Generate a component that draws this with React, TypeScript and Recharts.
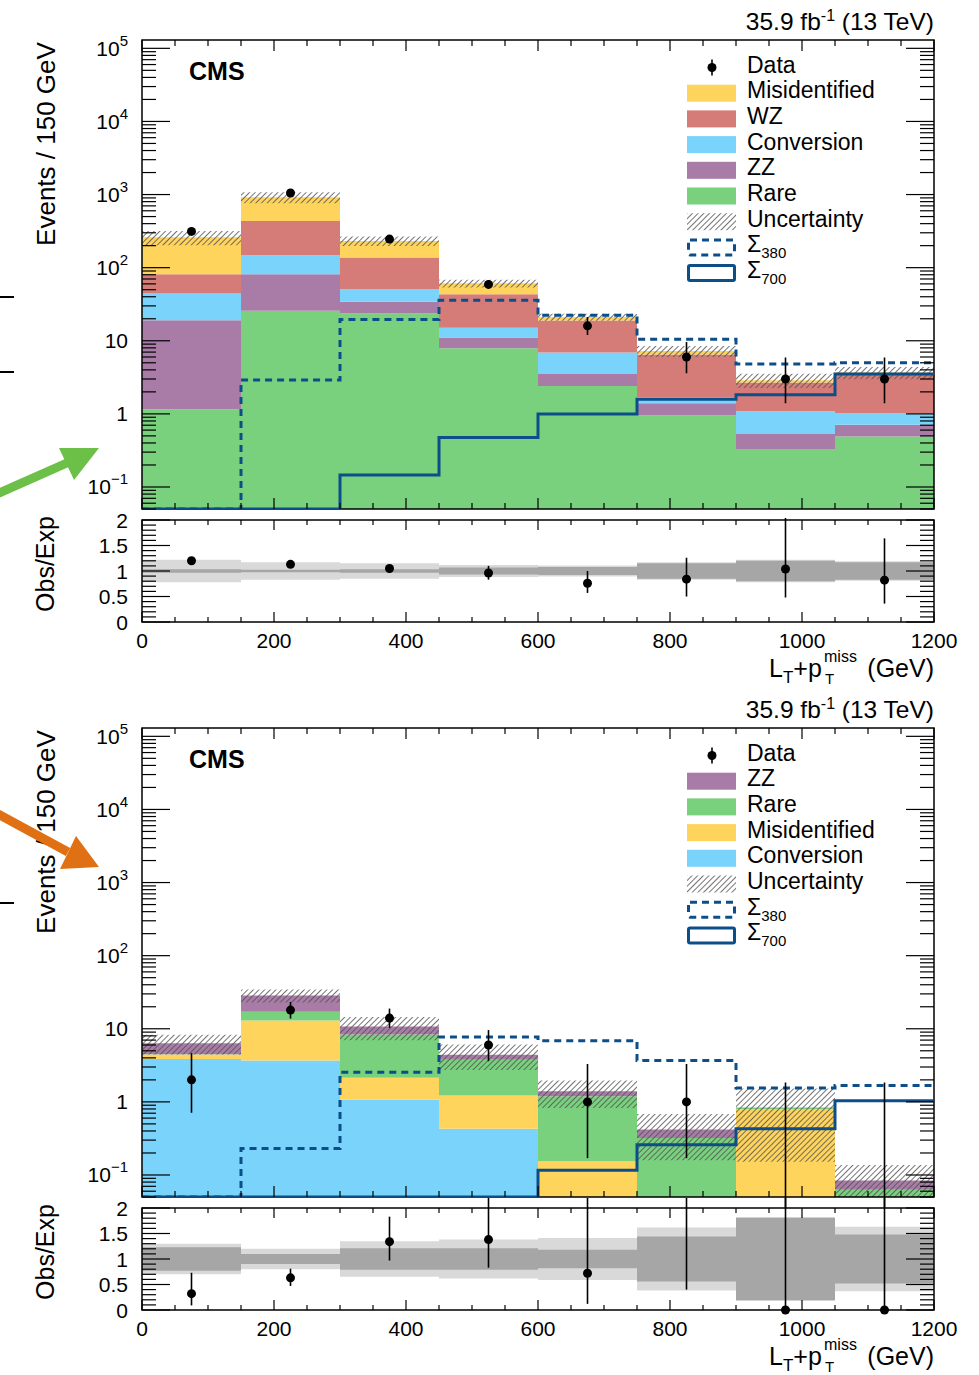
import React from 'react';
import { ComposedChart, Area, Line, Scatter, XAxis, YAxis, ErrorBar, ReferenceArea } from 'recharts';

const FONT = '"Liberation Sans", Arial, Helvetica, sans-serif';

// ---------- binning / ticks ----------
const BIN_EDGES = [0, 150, 300, 450, 600, 750, 900, 1050, 1200];
const BIN_CENTERS = [75, 225, 375, 525, 675, 825, 975, 1125];
const X_MAJOR = [0, 200, 400, 600, 800, 1000, 1200];
const X_LABELS = ['0', '200', '400', '600', '800', '1000', '1200'];
const Y_LOG_MAJOR = [0.1, 1, 10, 100, 1000, 10000, 100000];
const Y_LOG_BASE = ['10', '1', '10', '10', '10', '10', '10'];
const Y_LOG_SUP = ['\u22121', '', '', '2', '3', '4', '5'];
const RATIO_MAJOR = [0, 0.5, 1, 1.5, 2];
const RATIO_LABELS = ['0', '0.5', '1', '1.5', '2'];

// ---------- top panel (3 leptons) ----------
const topRare = [1.16, 25.7, 23.6, 7.9, 2.4, 0.95, 0.33, 0.49];
const topZZ = [18.0, 55.6, 10.5, 3.2, 1.1, 0.45, 0.2, 0.22];
const topConversion = [25.1, 66.3, 17.1, 4.0, 3.4, 0.29, 0.56, 0.31];
const topWZ = [37, 286, 87, 28.3, 12.1, 4.8, 1.6, 2.5];
const topMisid = [179, 486, 94, 17.6, 2.1, 0.75, 0.2, 0.15];
const topUnc = [0.22, 0.17, 0.15, 0.12, 0.11, 0.17, 0.22, 0.19];
const topStat = [0.035, 0.025, 0.035, 0.07, 0.08, 0.15, 0.2, 0.17];
const topData = [313, 1050, 246, 59, 16, 6, 3, 3];
const topDataErrLow = [17.7, 32, 15.7, 7.7, 4.0, 2.4, 1.6, 1.6];
const topDataErrHigh = [18.7, 33, 16.7, 8.7, 5.1, 3.6, 2.9, 2.9];
const topRatio = [1.2, 1.13, 1.05, 0.96, 0.76, 0.84, 1.04, 0.82];
const topRatioErrLow = [0.07, 0.035, 0.07, 0.13, 0.19, 0.34, 0.56, 0.46];
const topRatioErrHigh = [0.07, 0.035, 0.07, 0.14, 0.24, 0.42, 1.0, 0.82];
const topSig380 = [0, 2.9, 19.6, 35.9, 22.4, 10.5, 4.8, 5.0];
const topSig700 = [0, 0, 0.146, 0.475, 1.0, 1.59, 1.83, 3.5];

// ---------- bottom panel (4 leptons) ----------
const botConversion = [3.87, 3.67, 1.07, 0.43, 0, 0, 0, 0];
const botMisid = [0.56, 9.33, 1.06, 0.79, 0.154, 0, 0.8, 0];
const botRare = [0.07, 4.1, 6.2, 2.56, 1.04, 0.32, 0.03, 0.063];
const botZZ = [1.85, 11.5, 2.4, 0.62, 0.2, 0.1, 0.01, 0.021];
const botUnc = [0.3, 0.2, 0.35, 0.38, 0.41, 0.62, 0.82, 0.63];
const botStat = [0.23, 0.1, 0.21, 0.21, 0.18, 0.44, 0.81, 0.48];
const botData = [2, 18, 14, 6, 1, 1, 0, 0];
const botDataErrLow = [1.29, 4.2, 3.7, 2.4, 0.83, 0.83, 0, 0];
const botDataErrHigh = [2.64, 5.3, 4.9, 3.6, 2.3, 2.3, 1.84, 1.84];
const botRatio = [0.32, 0.63, 1.34, 1.38, 0.72, 2.4, 0, 0];
const botRatioErrLow = [0.23, 0.16, 0.37, 0.55, 0.6, 2.0, 0, 0];
const botRatioErrHigh = [0.41, 0.18, 0.49, 0.82, 1.6, 3.0, 2.2, 2.2];
const botSig380 = [0, 0.23, 2.54, 7.73, 6.88, 3.67, 1.55, 1.67];
const botSig700 = [0, 0, 0, 0, 0.116, 0.259, 0.428, 1.04];

// ---------- styles ----------
const C_MISID = '#FFD45C';
const C_WZ = '#D67C78';
const C_CONV = '#7AD3FA';
const C_ZZ = '#A97CA8';
const C_RARE = '#79D17E';
const C_SIG = '#0C4E8A';
const C_LIGHT = '#D9D9D9';
const C_DARK = '#A6A6A6';
const C_HATCH = '#505050';

const Y_MIN = 0.05;
const Y_MAX = 1.3e5;
const FLOOR = 0.01;
const NB = 8;

// tick lists
const X_TICKS: number[] = [];
for (let v = 0; v <= 1200; v += 50) X_TICKS.push(v);
const LOG_TICKS: number[] = [];
for (let e = -2; e <= 5; e++) {
  for (let m = 1; m <= 9; m++) {
    const v = m * Math.pow(10, e);
    const vv = parseFloat(v.toPrecision(6));
    if (vv >= Y_MIN && vv <= Y_MAX) LOG_TICKS.push(vv);
  }
}
const RATIO_TICKS: number[] = [];
for (let i = 0; i <= 20; i++) RATIO_TICKS.push(i / 10);

const near = (a: number, b: number) => Math.abs(a - b) <= 1e-9 + 1e-6 * Math.abs(b);

type Bounds = { L: number; R: number; T: number; B: number };

function makeYTick(b: Bounds, kind: 'log' | 'ratio') {
  return (props: any) => {
    const y = props.y;
    const v = props.payload.value;
    const majors = kind === 'log' ? Y_LOG_MAJOR : RATIO_MAJOR;
    const mi = majors.findIndex((m) => near(v, m));
    const len = mi >= 0 ? 28 : 14;
    let label: any = null;
    if (mi >= 0) {
      if (kind === 'log') {
        label = (
          <text x={b.L - 14} y={y + 7.5} textAnchor="end" fontSize={21} fontFamily={FONT} fill="#000">
            {Y_LOG_BASE[mi]}
            {Y_LOG_SUP[mi] ? (
              <tspan dy={-10} fontSize={15}>
                {Y_LOG_SUP[mi]}
              </tspan>
            ) : null}
          </text>
        );
      } else {
        label = (
          <text x={b.L - 14} y={y + 7.5} textAnchor="end" fontSize={21} fontFamily={FONT} fill="#000">
            {RATIO_LABELS[mi]}
          </text>
        );
      }
    }
    return (
      <g>
        <line x1={b.L} x2={b.L + len} y1={y} y2={y} stroke="#000" strokeWidth={1.2} />
        <line x1={b.R - len} x2={b.R} y1={y} y2={y} stroke="#000" strokeWidth={1.2} />
        {label}
      </g>
    );
  };
}

function makeXTick(b: Bounds, showLabels: boolean, majorLen: number, minorLen: number) {
  return (props: any) => {
    const x = props.x;
    const v = props.payload.value;
    const mi = X_MAJOR.findIndex((m) => near(v, m));
    const len = mi >= 0 ? majorLen : minorLen;
    return (
      <g>
        <line x1={x} x2={x} y1={b.B} y2={b.B - len} stroke="#000" strokeWidth={1.2} />
        <line x1={x} x2={x} y1={b.T} y2={b.T + len} stroke="#000" strokeWidth={1.2} />
        {showLabels && mi >= 0 ? (
          <text x={x} y={b.B + 26} textAnchor="middle" fontSize={21} fontFamily={FONT} fill="#000">
            {X_LABELS[mi]}
          </text>
        ) : null}
      </g>
    );
  };
}

type Stack = { key: string; values: number[]; color: string };

function buildMainRows(stacks: Stack[], unc: number[], s380: number[], s700: number[]) {
  return BIN_EDGES.map((edge, i) => {
    const b = Math.min(i, NB - 1);
    const row: any = { x: edge };
    let cum = 0;
    stacks.forEach((s) => {
      const lo = cum;
      const hi = cum + s.values[b];
      row[s.key] = [Math.max(lo, FLOOR), Math.max(hi, FLOOR)];
      cum = hi;
    });
    row.unc = [Math.max(cum * (1 - unc[b]), FLOOR), Math.max(cum * (1 + unc[b]), FLOOR)];
    row.s380 = Math.max(s380[b], Y_MIN);
    row.s700 = Math.max(s700[b], Y_MIN);
    return row;
  });
}

function buildPoints(vals: number[], lo: number[], hi: number[]) {
  return BIN_CENTERS.map((c, i) => {
    const v = vals[i];
    const y = v > 0 ? v : 0.02;
    return { x: c, y, show: v > 0, err: [v > 0 ? lo[i] : 0, hi[i] + v - y] };
  });
}

function buildRatioRows(unc: number[], stat: number[]) {
  return BIN_EDGES.map((edge, i) => {
    const b = Math.min(i, NB - 1);
    return { x: edge, light: [1 - unc[b], 1 + unc[b]], dark: [1 - stat[b], 1 + stat[b]] };
  });
}

function buildRatioPts(vals: number[], lo: number[], hi: number[]) {
  return BIN_CENTERS.map((c, i) => ({ x: c, y: vals[i], err: [lo[i], hi[i]] }));
}

const dotShape = (p: any) =>
  p.payload && p.payload.show === false ? <g /> : <circle cx={p.cx} cy={p.cy} r={4.5} fill="#000" />;
const plainDot = (p: any) => <circle cx={p.cx} cy={p.cy} r={4.5} fill="#000" />;
const noShape = () => <g />;

const MAIN_B: Bounds = { L: 142, R: 934, T: 40, B: 509 };
const RATIO_B: Bounds = { L: 142, R: 934, T: 10, B: 112 };

function HatchDef({ id }: { id: string }) {
  return (
    <pattern id={id} patternUnits="userSpaceOnUse" width={4} height={4} patternTransform="rotate(45)">
      <line x1={0} y1={0} x2={0} y2={4} stroke={C_HATCH} strokeWidth={1.6} />
    </pattern>
  );
}

function MainPanel({ top, stacks, unc, s380, s700, data, lo, hi, pid }: any) {
  const rows = buildMainRows(stacks, unc, s380, s700);
  const pts = buildPoints(data, lo, hi);
  return (
    <div style={{ position: 'absolute', left: 0, top, width: 979, height: 520 }}>
      <ComposedChart width={979} height={520} data={rows} margin={{ top: 40, right: 45, bottom: 10, left: 82 }}>
        <defs>
          <HatchDef id={pid} />
        </defs>
        {stacks.map((s: Stack) => (
          <Area
            key={s.key}
            xAxisId="x"
            yAxisId="y"
            dataKey={s.key}
            type="stepAfter"
            fill={s.color}
            fillOpacity={1}
            stroke="none"
            isAnimationActive={false}
            activeDot={false}
          />
        ))}
        <Area
          xAxisId="x"
          yAxisId="y"
          dataKey="unc"
          type="stepAfter"
          fill={`url(#${pid})`}
          fillOpacity={1}
          stroke="none"
          isAnimationActive={false}
          activeDot={false}
        />
        <XAxis
          xAxisId="x"
          dataKey="x"
          type="number"
          domain={[0, 1200]}
          ticks={X_TICKS}
          interval={0}
          tick={makeXTick(MAIN_B, false, 11, 6)}
          tickLine={false}
          axisLine={false}
          height={1}
        />
        <YAxis
          yAxisId="y"
          type="number"
          scale="log"
          domain={[Y_MIN, Y_MAX]}
          allowDataOverflow
          ticks={LOG_TICKS}
          interval={0}
          tick={makeYTick(MAIN_B, 'log')}
          tickLine={false}
          axisLine={false}
          width={60}
        />
        <ReferenceArea
          xAxisId="x"
          yAxisId="y"
          x1={0}
          x2={1200}
          y1={Y_MIN}
          y2={Y_MAX}
          fill="none"
          fillOpacity={0}
          stroke="#000"
          strokeWidth={1.5}
          ifOverflow="visible"
        />
        <Line
          xAxisId="x"
          yAxisId="y"
          dataKey="s380"
          type="stepAfter"
          stroke={C_SIG}
          strokeWidth={3}
          strokeDasharray="7 5"
          dot={false}
          activeDot={false}
          isAnimationActive={false}
        />
        <Line
          xAxisId="x"
          yAxisId="y"
          dataKey="s700"
          type="stepAfter"
          stroke={C_SIG}
          strokeWidth={3}
          dot={false}
          activeDot={false}
          isAnimationActive={false}
        />
        <Scatter xAxisId="x" yAxisId="y" data={pts} dataKey="y" shape={dotShape} isAnimationActive={false}>
          <ErrorBar dataKey="err" direction="y" width={0} stroke="#000" strokeWidth={1.6} />
        </Scatter>
      </ComposedChart>
    </div>
  );
}

function RatioPanel({ top, height, unc, stat, ratio, lo, hi }: any) {
  const rows = buildRatioRows(unc, stat);
  const errPts = buildRatioPts(ratio, lo, hi);
  const dotPts = errPts.filter((p) => p.y >= 0 && p.y <= 2);
  return (
    <div style={{ position: 'absolute', left: 0, top, width: 979, height }}>
      <ComposedChart width={979} height={height} data={rows} margin={{ top: 10, right: 45, bottom: height - 142, left: 82 }}>
        <Area xAxisId="x" yAxisId="r" dataKey="light" type="stepAfter" fill={C_LIGHT} fillOpacity={1} stroke="none" isAnimationActive={false} activeDot={false} />
        <Area xAxisId="x" yAxisId="r" dataKey="dark" type="stepAfter" fill={C_DARK} fillOpacity={1} stroke="none" isAnimationActive={false} activeDot={false} />
        <XAxis
          xAxisId="x"
          dataKey="x"
          type="number"
          domain={[0, 1200]}
          ticks={X_TICKS}
          interval={0}
          tick={makeXTick(RATIO_B, true, 10, 5)}
          tickLine={false}
          axisLine={false}
          height={30}
        />
        <YAxis
          yAxisId="r"
          type="number"
          domain={[0, 2]}
          allowDataOverflow
          ticks={RATIO_TICKS}
          interval={0}
          tick={makeYTick(RATIO_B, 'ratio')}
          tickLine={false}
          axisLine={false}
          width={60}
        />
        <YAxis yAxisId="rd" type="number" domain={[0, 2]} hide />
        <ReferenceArea
          xAxisId="x"
          yAxisId="r"
          x1={0}
          x2={1200}
          y1={0}
          y2={2}
          fill="none"
          fillOpacity={0}
          stroke="#000"
          strokeWidth={1.5}
          ifOverflow="visible"
        />
        <Scatter xAxisId="x" yAxisId="r" data={errPts} dataKey="y" shape={noShape} isAnimationActive={false}>
          <ErrorBar dataKey="err" direction="y" width={0} stroke="#000" strokeWidth={1.6} />
        </Scatter>
        <Scatter xAxisId="x" yAxisId="rd" data={dotPts} dataKey="y" shape={plainDot} isAnimationActive={false} />
      </ComposedChart>
    </div>
  );
}

type LegItem = { label: string; kind: 'data' | 'fill' | 'hatch' | 'dash' | 'solid'; color?: string; sub?: string };

const TOP_LEGEND: LegItem[] = [
  { label: 'Data', kind: 'data' },
  { label: 'Misidentified', kind: 'fill', color: C_MISID },
  { label: 'WZ', kind: 'fill', color: C_WZ },
  { label: 'Conversion', kind: 'fill', color: C_CONV },
  { label: 'ZZ', kind: 'fill', color: C_ZZ },
  { label: 'Rare', kind: 'fill', color: C_RARE },
  { label: 'Uncertainty', kind: 'hatch' },
  { label: '\u03A3', sub: '380', kind: 'dash' },
  { label: '\u03A3', sub: '700', kind: 'solid' },
];
const BOT_LEGEND: LegItem[] = [
  { label: 'Data', kind: 'data' },
  { label: 'ZZ', kind: 'fill', color: C_ZZ },
  { label: 'Rare', kind: 'fill', color: C_RARE },
  { label: 'Misidentified', kind: 'fill', color: C_MISID },
  { label: 'Conversion', kind: 'fill', color: C_CONV },
  { label: 'Uncertainty', kind: 'hatch' },
  { label: '\u03A3', sub: '380', kind: 'dash' },
  { label: '\u03A3', sub: '700', kind: 'solid' },
];

function LegendBlock({ y0, items }: { y0: number; items: LegItem[] }) {
  return (
    <g>
      {items.map((it, i) => {
        const cy = y0 + 25.7 * i;
        let sw: any = null;
        if (it.kind === 'data') {
          sw = (
            <g>
              <line x1={712} x2={712} y1={cy - 8} y2={cy + 8} stroke="#000" strokeWidth={1.6} />
              <circle cx={712} cy={cy} r={4.5} fill="#000" />
            </g>
          );
        } else if (it.kind === 'fill') {
          sw = <rect x={687} y={cy - 8.5} width={49} height={17} fill={it.color} />;
        } else if (it.kind === 'hatch') {
          sw = <rect x={687} y={cy - 8.5} width={49} height={17} fill="url(#hatchLeg)" />;
        } else {
          sw = (
            <rect
              x={688.5}
              y={cy - 7.5}
              width={46}
              height={15}
              fill="#fff"
              stroke={C_SIG}
              strokeWidth={3}
              strokeDasharray={it.kind === 'dash' ? '7 5' : undefined}
              rx={1.5}
            />
          );
        }
        return (
          <g key={i}>
            {sw}
            <text x={747} y={cy + 5} fontSize={23} fontFamily={FONT} fill="#000">
              {it.label}
              {it.sub ? (
                <tspan dy={6} fontSize={15}>
                  {it.sub}
                </tspan>
              ) : null}
            </text>
          </g>
        );
      })}
    </g>
  );
}

function PanelTexts({ dy }: { dy: number }) {
  return (
    <g fontFamily={FONT} fill="#000">
      <text x={934} y={30 + dy} textAnchor="end" fontSize={24.5}>
        35.9 fb
        <tspan dy={-9} fontSize={16}>
          -1
        </tspan>
        <tspan dy={9}>{'\u00A0(13 TeV)'}</tspan>
      </text>
      <text x={189} y={80 + dy} fontSize={25} fontWeight="bold">
        CMS
      </text>
      <text transform={`translate(55,${144 + dy}) rotate(-90)`} textAnchor="middle" fontSize={26}>
        Events / 150 GeV
      </text>
      <text transform={`translate(54,${564 + dy}) rotate(-90)`} textAnchor="middle" fontSize={25}>
        Obs/Exp
      </text>
      <text x={769} y={677 + dy} fontSize={25}>
        L
        <tspan dy={6} fontSize={17}>
          T
        </tspan>
        <tspan dy={-6}>+p</tspan>
      </text>
      <text x={824} y={662 + dy} fontSize={16}>
        miss
      </text>
      <text x={825} y={684 + dy} fontSize={15}>
        T
      </text>
      <text x={934} y={677 + dy} textAnchor="end" fontSize={25}>
        (GeV)
      </text>
    </g>
  );
}

function Overlay() {
  return (
    <svg width={979} height={1375} style={{ position: 'absolute', left: 0, top: 0, pointerEvents: 'none' }}>
      <defs>
        <HatchDef id="hatchLeg" />
      </defs>
      <PanelTexts dy={0} />
      <PanelTexts dy={688} />
      <LegendBlock y0={67.5} items={TOP_LEGEND} />
      <LegendBlock y0={755.5} items={BOT_LEGEND} />
      {/* stray marks at left edge */}
      <line x1={0} x2={14} y1={297} y2={297} stroke="#000" strokeWidth={2} />
      <line x1={0} x2={14} y1={372} y2={372} stroke="#000" strokeWidth={2} />
      <line x1={0} x2={14} y1={903} y2={903} stroke="#000" strokeWidth={2} />
      {/* green arrow */}
      <line x1={-2} y1={493.5} x2={68} y2={462.5} stroke="#6CBF47" strokeWidth={9} />
      <polygon points="99,448 59,448 74,480" fill="#6CBF47" />
      {/* orange arrow */}
      <line x1={-2} y1={814} x2={68} y2={852} stroke="#E07014" strokeWidth={9} />
      <polygon points="99,867 76,836 60,869" fill="#E07014" />
    </svg>
  );
}

export default function App() {
  const topStacks: Stack[] = [
    { key: 'rare', values: topRare, color: C_RARE },
    { key: 'zz', values: topZZ, color: C_ZZ },
    { key: 'conv', values: topConversion, color: C_CONV },
    { key: 'wz', values: topWZ, color: C_WZ },
    { key: 'misid', values: topMisid, color: C_MISID },
  ];
  const botStacks: Stack[] = [
    { key: 'conv', values: botConversion, color: C_CONV },
    { key: 'misid', values: botMisid, color: C_MISID },
    { key: 'rare', values: botRare, color: C_RARE },
    { key: 'zz', values: botZZ, color: C_ZZ },
  ];
  return (
    <div style={{ position: 'absolute', left: 0, top: 0, width: 979, height: 1375, background: '#fff', fontFamily: FONT }}>
      <MainPanel
        top={0}
        stacks={topStacks}
        unc={topUnc}
        s380={topSig380}
        s700={topSig700}
        data={topData}
        lo={topDataErrLow}
        hi={topDataErrHigh}
        pid="hatchTop"
      />
      <RatioPanel top={510} height={180} unc={topUnc} stat={topStat} ratio={topRatio} lo={topRatioErrLow} hi={topRatioErrHigh} />
      <MainPanel
        top={688}
        stacks={botStacks}
        unc={botUnc}
        s380={botSig380}
        s700={botSig700}
        data={botData}
        lo={botDataErrLow}
        hi={botDataErrHigh}
        pid="hatchBot"
      />
      <RatioPanel top={1198} height={177} unc={botUnc} stat={botStat} ratio={botRatio} lo={botRatioErrLow} hi={botRatioErrHigh} />
      <Overlay />
    </div>
  );
}
